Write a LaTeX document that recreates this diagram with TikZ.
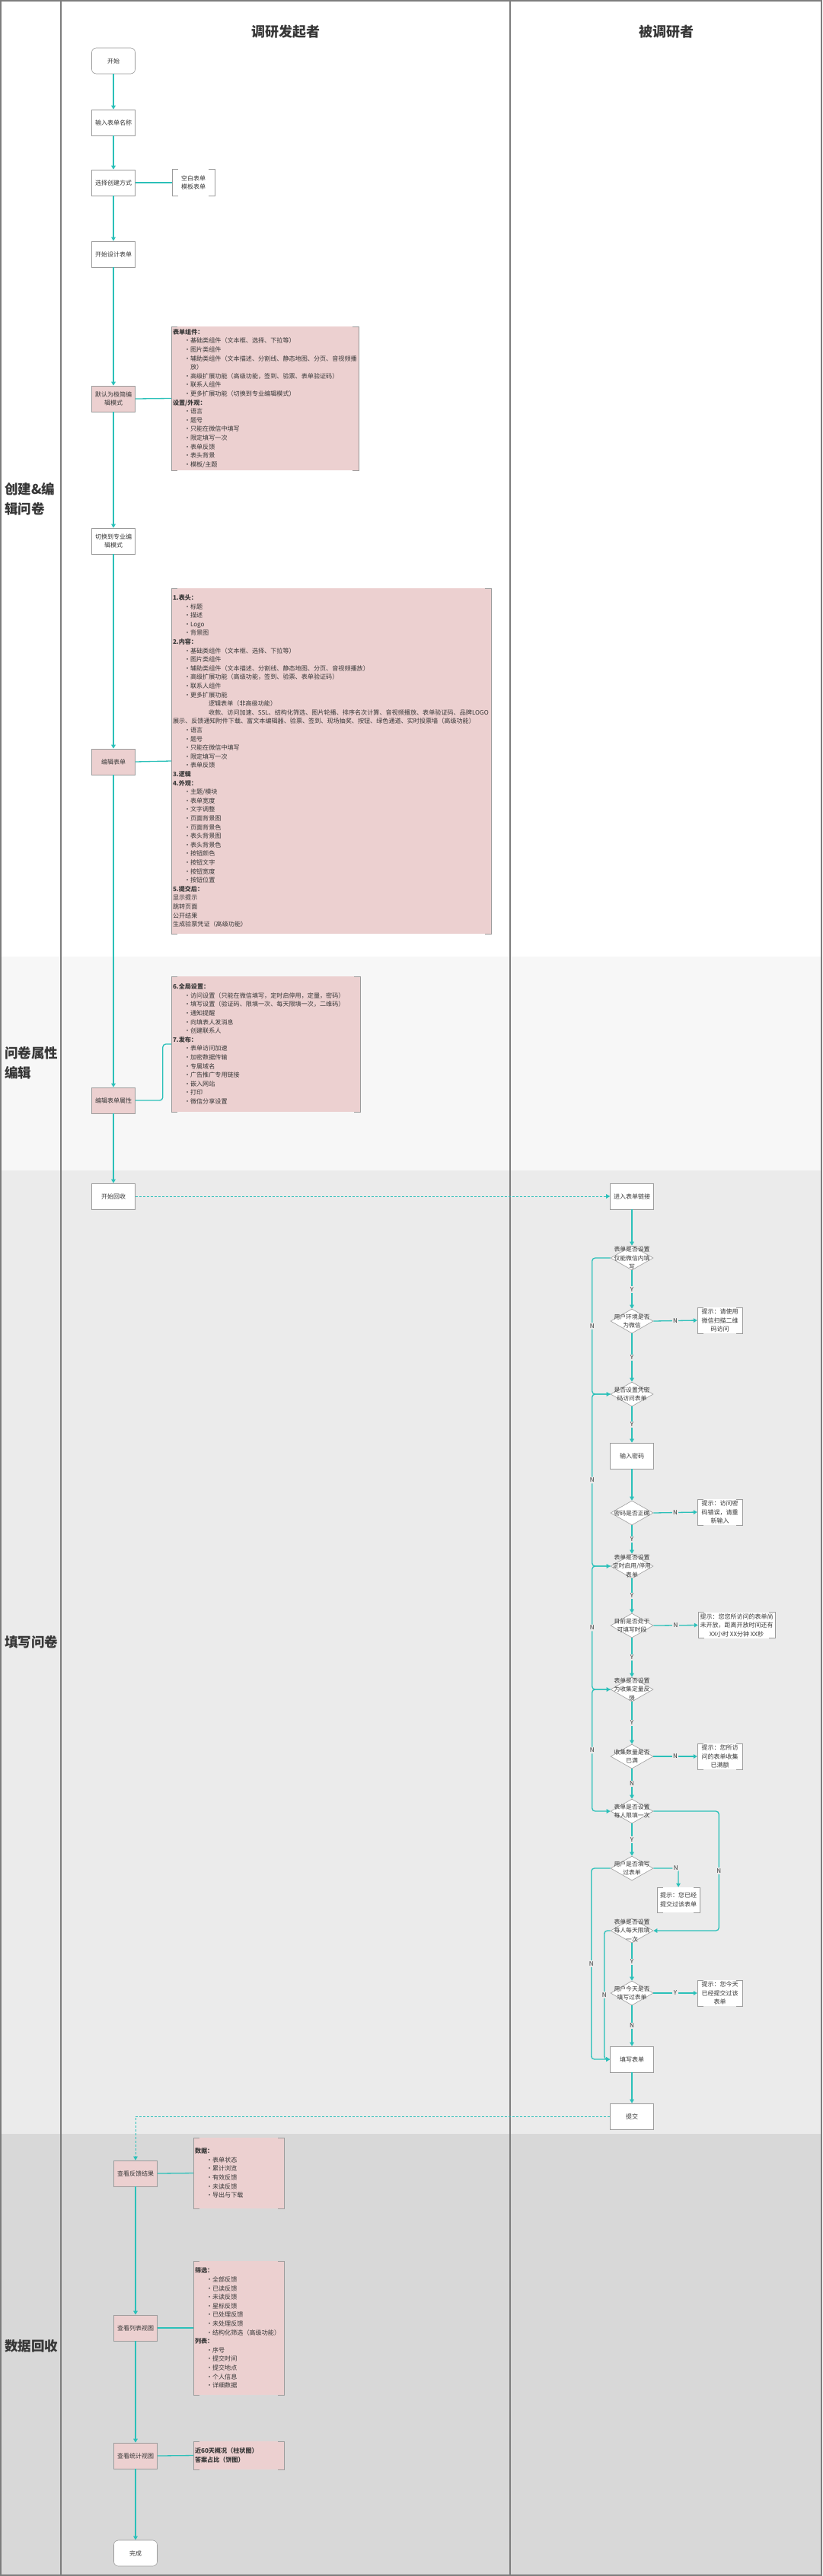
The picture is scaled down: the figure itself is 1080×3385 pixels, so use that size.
\documentclass[tikz,border=0pt]{standalone}
\usepackage{fontspec}
\setmainfont{Noto Sans CJK SC}
\usetikzlibrary{positioning,arrows.meta,shapes.geometric}

\definecolor{flowteal}{RGB}{43,192,185}
\definecolor{notepink}{RGB}{236,208,208}
\definecolor{framegray}{RGB}{125,125,125}
\definecolor{boxgray}{RGB}{155,155,155}
\definecolor{bandA}{RGB}{247,247,247}
\definecolor{bandB}{RGB}{235,235,235}
\definecolor{bandC}{RGB}{216,216,216}
\definecolor{inkgray}{RGB}{55,55,55}

% bullet rows inside the notes
\newcommand{\itemdot}{\hspace*{15pt}\makebox[8pt][l]{•}}
\newcommand{\subindent}{\hspace*{47pt}}
\newcommand{\wrapindent}{\hspace*{23pt}}

% corner brackets of a note
\newcommand{\notebracket}[1]{%
  \draw[boxgray, line width=0.6pt]
    ([xshift=8pt]#1.north west) -- (#1.north west) -- (#1.south west) -- ([xshift=8pt]#1.south west)
    ([xshift=-8pt]#1.north east) -- (#1.north east) -- (#1.south east) -- ([xshift=-8pt]#1.south east);}

\tikzset{
  procbox/.style={draw=boxgray, fill=white, line width=0.6pt, minimum width=57pt, minimum height=34pt,
    inner sep=1pt, align=center, text=inkgray, font=\fontsize{8}{11.5}\selectfont},
  pinkbox/.style={procbox, fill=notepink},
  endbox/.style={procbox, rounded corners=6pt},
  decision/.style={draw=boxgray, fill=white, line width=0.6pt, shape=diamond,
    minimum width=56pt, minimum height=32pt, inner sep=0pt},
  dtext/.style={align=center, text=inkgray, font=\fontsize{7.8}{11.6}\selectfont, inner sep=0pt},
  tipnote/.style={fill=white, minimum height=34pt, inner sep=1pt, align=center, text=inkgray,
    font=\fontsize{8}{11.5}\selectfont},
  infonote/.style={fill=notepink, inner xsep=2pt, inner ysep=0pt, align=left, text=inkgray,
    font=\fontsize{8.1}{11.6}\selectfont},
  flow/.style={draw=flowteal, line width=1.3pt, -{Triangle[length=5pt,width=5.5pt]}},
  dflow/.style={flow, line width=0.9pt, dash pattern=on 3pt off 2pt},
  notelink/.style={draw=flowteal, line width=1.3pt},
  lbl/.style={fill=bandB, inner sep=1.5pt, text=inkgray, font=\fontsize{8}{9}\selectfont},
  header/.style={font=\fontsize{18}{22}\selectfont\bfseries, text=inkgray},
  lanetitle/.style={font=\fontsize{17.5}{26}\selectfont\bfseries, text=inkgray, align=left,
    anchor=west, inner sep=0pt},
}

\begin{document}
\begin{tikzpicture}[x=1pt, y=-1pt]
  \useasboundingbox (0,0) rectangle (1080,3385);

  % lane bands
  \fill[bandA] (0,1257) rectangle (1080,1538);
  \fill[bandB] (0,1538) rectangle (1080,2804);
  \fill[bandC] (0,2804) rectangle (1080,3385);
  \draw[framegray, line width=1.5pt] (1,1) rectangle (1079,3384);
  \foreach \x in {80,670}
    \draw[framegray, line width=1.5pt] (\x,0) -- (\x,3385);

  % titles
  \node[header] (hfrom) at (375,42) {调研发起者};
  \node[header] (hto) at (875,42) {被调研者};
  \node[lanetitle] (lcreate) at (6,656) {创建\&编\\辑问卷};
  \node[lanetitle] (lprop) at (6,1397) {问卷属性\\编辑};
  \node[lanetitle] (lfill) at (6,2158) {填写问卷};
  \node[lanetitle] (ldata) at (6,3083) {数据回收};

  % create and edit
  \node[endbox] (start) at (149,80) {开始};
  \node[procbox] (inname) at (149,161) {输入表单名称};
  \node[procbox] (choose) at (149,240) {选择创建方式};
  \node[tipnote, fill=none, minimum width=56pt, minimum height=35pt] (modes) at (254,240) {空白表单\\模板表单};
  \notebracket{modes}
  \node[procbox] (design) at (149,334) {开始设计表单};
  \node[pinkbox] (simple) at (149,524) {默认为极简编\\辑模式};
  \node[procbox] (pro) at (149,711) {切换到专业编\\辑模式};
  \node[pinkbox] (edit) at (149,1001) {编辑表单};
  \node[pinkbox] (prop) at (149,1446) {编辑表单属性};

  \node[infonote, text width=242pt, minimum height=189pt] (simpleinfo) at (348,523.5) {%
    \textbf{表单组件：}\\
    \itemdot 基础类组件（文本框、选择、下拉等）\\
    \itemdot 图片类组件\\
    \itemdot 辅助类组件（文本描述、分割线、静态地图、分页、音视频播\\
    \wrapindent 放）\\
    \itemdot 高级扩展功能（高级功能，签到、验票、表单验证码）\\
    \itemdot 联系人组件\\
    \itemdot 更多扩展功能（切换到专业编辑模式）\\
    \textbf{设置/外观：}\\
    \itemdot 语言\\
    \itemdot 题号\\
    \itemdot 只能在微信中填写\\
    \itemdot 限定填写一次\\
    \itemdot 表单反馈\\
    \itemdot 表头背景\\
    \itemdot 模板/主题};
  \notebracket{simpleinfo}

  \node[infonote, text width=416pt, minimum height=454pt] (editinfo) at (435,1000) {%
    \textbf{1.表头：}\\
    \itemdot 标题\\
    \itemdot 描述\\
    \itemdot Logo\\
    \itemdot 背景图\\
    \textbf{2.内容：}\\
    \itemdot 基础类组件（文本框、选择、下拉等）\\
    \itemdot 图片类组件\\
    \itemdot 辅助类组件（文本描述、分割线、静态地图、分页、音视频播放）\\
    \itemdot 高级扩展功能（高级功能，签到、验票、表单验证码）\\
    \itemdot 联系人组件\\
    \itemdot 更多扩展功能\\
    \subindent 逻辑表单（非高级功能）\\
    \subindent 收款、访问加速、SSL、结构化筛选、图片轮播、排序名次计算、音视频播放、表单验证码、品牌LOGO\\
    展示、反馈通知附件下载、富文本编辑器、验票、签到、现场抽奖、按钮、绿色通道、实时投票墙（高级功能）\\
    \itemdot 语言\\
    \itemdot 题号\\
    \itemdot 只能在微信中填写\\
    \itemdot 限定填写一次\\
    \itemdot 表单反馈\\
    \textbf{3.逻辑}\\
    \textbf{4.外观：}\\
    \itemdot 主题/模块\\
    \itemdot 表单宽度\\
    \itemdot 文字调整\\
    \itemdot 页面背景图\\
    \itemdot 页面背景色\\
    \itemdot 表头背景图\\
    \itemdot 表头背景色\\
    \itemdot 按钮颜色\\
    \itemdot 按钮文字\\
    \itemdot 按钮宽度\\
    \itemdot 按钮位置\\
    \textbf{5.提交后：}\\
    显示提示\\
    跳转页面\\
    公开结果\\
    生成验票凭证（高级功能）};
  \notebracket{editinfo}

  \node[infonote, text width=244pt, minimum height=178pt] (propinfo) at (349,1372) {%
    \textbf{6.全局设置：}\\
    \itemdot 访问设置（只能在微信填写，定时启停用，定量，密码）\\
    \itemdot 填写设置（验证码、限填一次、每天限填一次，二维码）\\
    \itemdot 通知提醒\\
    \itemdot 向填表人发消息\\
    \itemdot 创建联系人\\
    \textbf{7.发布：}\\
    \itemdot 表单访问加速\\
    \itemdot 加密数据传输\\
    \itemdot 专属域名\\
    \itemdot 广告推广专用链接\\
    \itemdot 嵌入网站\\
    \itemdot 打印\\
    \itemdot 微信分享设置};
  \notebracket{propinfo}

  % fill in the form
  \node[procbox] (collect) at (149,1572) {开始回收};
  \node[procbox] (link) at (830,1572) {进入表单链接};
  \node[decision, label={[dtext]center:{表单是否设置\\仅能微信内填\\写}}] (d1) at (830,1653) {};
  \node[decision, label={[dtext]center:{用户环境是否\\为微信}}] (d2) at (830,1736) {};
  \node[tipnote, minimum width=59pt] (tip2) at (945.5,1735) {提示：请使用\\微信扫描二维\\码访问};
  \node[decision, label={[dtext]center:{是否设置凭密\\码访问表单}}] (d3) at (830,1832) {};
  \node[procbox] (pwd) at (830,1913) {输入密码};
  \node[decision, label={[dtext]center:{密码是否正确}}] (d4) at (830,1988) {};
  \node[tipnote, minimum width=59pt] (tip4) at (945.5,1987) {提示：访问密\\码错误，请重\\新输入};
  \node[decision, label={[dtext]center:{表单是否设置\\定时启用/停用\\表单}}] (d5) at (830,2058) {};
  \node[decision, label={[dtext]center:{目前是否处于\\可填写时段}}] (d6) at (830,2136) {};
  \node[tipnote, minimum width=101pt] (tip6) at (967.5,2135.5) {提示：您您所访问的表单尚\\未开放，距离开放时间还有\\XX小时 XX分钟 XX秒};
  \node[decision, label={[dtext]center:{表单是否设置\\为收集定量反\\馈}}] (d7) at (830,2220) {};
  \node[decision, label={[dtext]center:{收集数量是否\\已满}}] (d8) at (830,2308) {};
  \node[tipnote, minimum width=59pt] (tip8) at (945.5,2308) {提示：您所访\\问的表单收集\\已满额};
  \node[decision, label={[dtext]center:{表单是否设置\\每人限填一次}}] (d9) at (830,2380) {};
  \node[decision, label={[dtext]center:{用户是否填写\\过表单}}] (d10) at (830,2455) {};
  \node[tipnote, minimum width=56pt, minimum height=33pt] (tip10) at (891,2496.5) {提示：您已经\\提交过该表单};
  \node[decision, label={[dtext]center:{表单是否设置\\每人每天限填\\一次}}] (d11) at (830,2537) {};
  \node[decision, label={[dtext]center:{用户今天是否\\填写过表单}}] (d12) at (830,2619) {};
  \node[tipnote, minimum width=59pt] (tip12) at (945.5,2619) {提示：您今天\\已经提交过该\\表单};
  \node[procbox] (fill) at (830,2706) {填写表单};
  \node[procbox] (submit) at (830,2781) {提交};
  \foreach \t in {tip2,tip4,tip6,tip8,tip10,tip12}
    {\notebracket{\t}}

  % data collection
  \node[pinkbox] (viewfb) at (178,2856) {查看反馈结果};
  \node[pinkbox] (viewlist) at (178,3059) {查看列表视图};
  \node[pinkbox] (viewstat) at (178,3227) {查看统计视图};
  \node[endbox] (done) at (178,3355) {完成};

  \node[infonote, text width=115pt, minimum height=93pt] (fbinfo) at (313.5,2855.5) {%
    \textbf{数据：}\\
    \itemdot 表单状态\\
    \itemdot 累计浏览\\
    \itemdot 有效反馈\\
    \itemdot 未读反馈\\
    \itemdot 导出与下载};
  \notebracket{fbinfo}
  \node[infonote, text width=115pt, minimum height=176pt] (listinfo) at (313.5,3059) {%
    \textbf{筛选：}\\
    \itemdot 全部反馈\\
    \itemdot 已读反馈\\
    \itemdot 未读反馈\\
    \itemdot 星标反馈\\
    \itemdot 已处理反馈\\
    \itemdot 未处理反馈\\
    \itemdot 结构化筛选（高级功能）\\
    \textbf{列表：}\\
    \itemdot 序号\\
    \itemdot 提交时间\\
    \itemdot 提交地点\\
    \itemdot 个人信息\\
    \itemdot 详细数据};
  \notebracket{listinfo}
  \node[infonote, text width=115pt, minimum height=37pt] (statinfo) at (313.5,3226.5) {%
    \textbf{近60天概况（柱状图）}\\
    \textbf{答案占比（饼图）}};
  \notebracket{statinfo}

  % connectors
  \foreach \a/\b in {start/inname, inname/choose, choose/design, design/simple, simple/pro, pro/edit,
      edit/prop, prop/collect, link/d1, pwd/d4, fill/submit, viewfb/viewlist, viewlist/viewstat, viewstat/done}
    \draw[flow] (\a.south) -- (\b.north);
  \foreach \a/\b in {d1/d2, d2/d3, d3/pwd, d4/d5, d5/d6, d6/d7, d7/d8, d9/d10, d11/d12}
    \draw[flow] (\a.south) -- node[lbl] {Y} (\b.north);
  \foreach \a/\b in {d8/d9, d12/fill}
    \draw[flow] (\a.south) -- node[lbl] {N} (\b.north);
  \foreach \a/\b in {d2/tip2, d4/tip4, d6/tip6, d8/tip8}
    \draw[flow] (\a.east) -- node[lbl] {N} (\b.west);
  \draw[flow] (d12.east) -- node[lbl] {Y} (tip12.west);
  \foreach \a/\b in {d1/d3, d3/d5, d5/d7, d7/d9}
    \draw[flow, rounded corners=4pt] (\a.west) -- ++(-24,0) |- node[lbl, pos=.25] {N} (\b.west);
  \draw[flow, rounded corners=4pt] (d9.east) -- ++(86,0) |- node[lbl, pos=.25] {N} (d11.east);
  \draw[flow, rounded corners=3pt] (d10.east) -| node[lbl, pos=.45] {N} (tip10.north);
  \draw[flow, rounded corners=4pt] (d10.west) -- ++(-25,0) |- node[lbl, pos=.25] {N} (fill.west);
  \draw[flow, rounded corners=4pt] (d11.west) -- ++(-8,0) |- node[lbl, pos=.25] {N} (fill.west);
  \draw[dflow] (collect.east) -- (link.west);
  \draw[dflow] (submit.west) -| (viewfb.north);

  % notes
  \draw[notelink] (choose.east) -- (modes.west);
  \draw[notelink] (simple.east) -- (simpleinfo.west);
  \draw[notelink] (edit.east) -- (editinfo.west);
  \draw[notelink, rounded corners=4pt] (prop.east) -- ++(36,0) |- (propinfo.west);
  \draw[notelink] (viewfb.east) -- (fbinfo.west);
  \draw[notelink] (viewlist.east) -- (listinfo.west);
  \draw[notelink] (viewstat.east) -- (statinfo.west);
\end{tikzpicture}
\end{document}
